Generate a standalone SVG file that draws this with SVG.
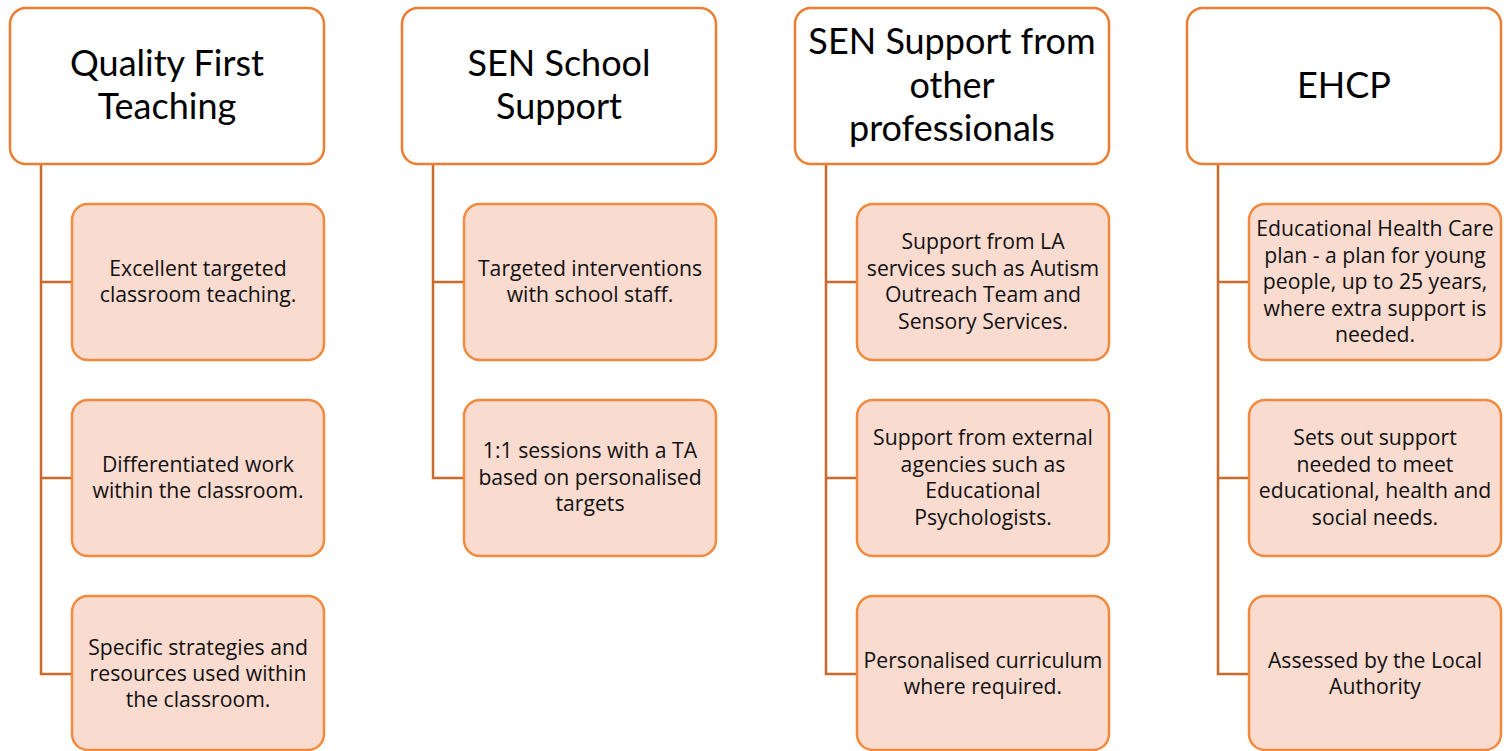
<svg xmlns="http://www.w3.org/2000/svg" width="1510" height="751" viewBox="0 0 1510 751">
<style>
.hd{fill:#FFFFFF;stroke:#ED7D31;stroke-width:2.5}
.ch{fill:#FADBD0;stroke:#F08A3E;stroke-width:2.5}
.cn{fill:none;stroke:#C96A2C;stroke-width:2.5}
.ht{font-family:Lato,"Open Sans",sans-serif;font-size:36px;fill:#000;text-anchor:middle}
.ct{font-family:"Open Sans",Lato,sans-serif;font-size:21.2px;fill:#111;text-anchor:middle}
</style>
<rect width="1510" height="751" fill="#FFFFFF"/>
<g id="connectors">
<path class="cn" d="M41,164 V674 H72 M41,282 H72 M41,478 H72"/>
<path class="cn" d="M433,164 V478 H464 M433,282 H464"/>
<path class="cn" d="M826,164 V674 H857 M826,282 H857 M826,478 H857"/>
<path class="cn" d="M1218,164 V674 H1249 M1218,282 H1249 M1218,478 H1249"/>
</g>
<g id="h1"><rect class="hd" x="10" y="8" width="314" height="156" rx="16"/><text class="ht" x="167" y="76">Quality First</text><text class="ht" x="167" y="119">Teaching</text></g>
<g id="h2"><rect class="hd" x="402" y="8" width="314" height="156" rx="16"/><text class="ht" x="559" y="76">SEN School</text><text class="ht" x="559" y="119">Support</text></g>
<g id="h3"><rect class="hd" x="795" y="8" width="314" height="156" rx="16"/><text class="ht" x="952" y="54">SEN Support from</text><text class="ht" x="952" y="98">other</text><text class="ht" x="952" y="141">professionals</text></g>
<g id="h4"><rect class="hd" x="1187" y="8" width="314" height="156" rx="16"/><text class="ht" x="1344" y="98">EHCP</text></g>

<g id="c1a"><rect class="ch" x="72" y="204" width="252" height="156" rx="16"/><text class="ct" x="198" y="276">Excellent targeted</text><text class="ct" x="198" y="302">classroom teaching.</text></g>
<g id="c1b"><rect class="ch" x="72" y="400" width="252" height="156" rx="16"/><text class="ct" x="198" y="472">Differentiated work</text><text class="ct" x="198" y="498">within the classroom.</text></g>
<g id="c1c"><rect class="ch" x="72" y="596" width="252" height="154" rx="16"/><text class="ct" x="198" y="655">Specific strategies and</text><text class="ct" x="198" y="681">resources used within</text><text class="ct" x="198" y="707">the classroom.</text></g>

<g id="c2a"><rect class="ch" x="464" y="204" width="252" height="156" rx="16"/><text class="ct" x="590" y="276">Targeted interventions</text><text class="ct" x="590" y="302">with school staff.</text></g>
<g id="c2b"><rect class="ch" x="464" y="400" width="252" height="156" rx="16"/><text class="ct" x="590" y="458">1:1 sessions with a TA</text><text class="ct" x="590" y="485">based on personalised</text><text class="ct" x="590" y="511">targets</text></g>

<g id="c3a"><rect class="ch" x="857" y="204" width="252" height="156" rx="16"/><text class="ct" x="983" y="249">Support from LA</text><text class="ct" x="983" y="276">services such as Autism</text><text class="ct" x="983" y="302">Outreach Team and</text><text class="ct" x="983" y="329">Sensory Services.</text></g>
<g id="c3b"><rect class="ch" x="857" y="400" width="252" height="156" rx="16"/><text class="ct" x="983" y="445">Support from external</text><text class="ct" x="983" y="472">agencies such as</text><text class="ct" x="983" y="498">Educational</text><text class="ct" x="983" y="525">Psychologists.</text></g>
<g id="c3c"><rect class="ch" x="857" y="596" width="252" height="154" rx="16"/><text class="ct" x="983" y="668">Personalised curriculum</text><text class="ct" x="983" y="694">where required.</text></g>

<g id="c4a"><rect class="ch" x="1249" y="204" width="252" height="156" rx="16"/><text class="ct" x="1375" y="236">Educational Health Care</text><text class="ct" x="1375" y="263">plan - a plan for young</text><text class="ct" x="1375" y="289">people, up to 25 years,</text><text class="ct" x="1375" y="316">where extra support is</text><text class="ct" x="1375" y="342">needed.</text></g>
<g id="c4b"><rect class="ch" x="1249" y="400" width="252" height="156" rx="16"/><text class="ct" x="1375" y="445">Sets out support</text><text class="ct" x="1375" y="472">needed to meet</text><text class="ct" x="1375" y="498">educational, health and</text><text class="ct" x="1375" y="525">social needs.</text></g>
<g id="c4c"><rect class="ch" x="1249" y="596" width="252" height="154" rx="16"/><text class="ct" x="1375" y="668">Assessed by the Local</text><text class="ct" x="1375" y="694">Authority</text></g>
</svg>
